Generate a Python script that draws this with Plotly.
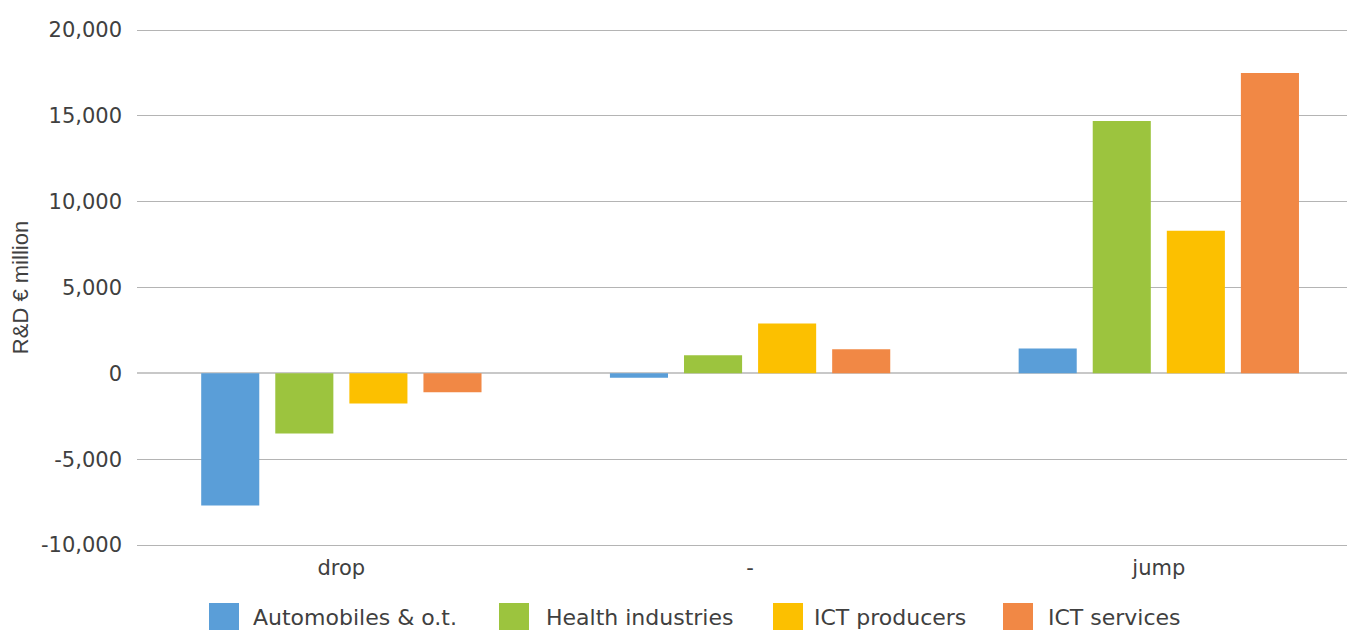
import plotly.graph_objects as go

categories = ["drop", "-", "jump"]
series_names = ["Automobiles & o.t.", "Health industries", "ICT producers", "ICT services"]
automobiles = [-7700, -250, 1450]
health = [-3500, 1050, 14700]
ict_producers = [-1750, 2900, 8300]
ict_services = [-1100, 1400, 17500]
colors = ["#5A9ED8", "#9CC43E", "#FCC000", "#F18845"]
y_ticks = [-10000, -5000, 0, 5000, 10000, 15000, 20000]
y_tick_text = ["-10,000", "-5,000", "0", "5,000", "10,000", "15,000", "20,000"]

values = [automobiles, health, ict_producers, ict_services]
font_family = "DejaVu Sans"
text_color = "#404040"

# page has an 8px body margin; size the figure so the plot lands where the original does
OFF = 8
W, H = 1355 - OFF, 630 - OFF
# plot edges in page pixels (2px beyond the outer gridlines so they are drawn)
PL, PT, PB = 137, 28, 547
PR = 1355
PAD = 2 * 30000 / (545 - 30)   # 2px worth of data units

fig = go.Figure()
for name, vals, col in zip(series_names, values, colors):
    fig.add_trace(go.Bar(x=categories, y=vals, name=name, marker_color=col,
                         marker_line_width=0, showlegend=False))


def px_x(p):
    return (p - PL) / (PR - PL)


def px_y(p):
    return (PB - p) / (PB - PT)


# custom legend (large swatches like the original)
swatch_x = [209, 499, 773, 1003]
label_x = [251, 544, 812, 1046]
for sx, lx, name, col in zip(swatch_x, label_x, series_names, colors):
    fig.add_shape(type="rect", xref="paper", yref="paper",
                  x0=px_x(sx), x1=px_x(sx + 30), y0=px_y(603), y1=px_y(640),
                  fillcolor=col, line_width=0)
    fig.add_annotation(xref="paper", yref="paper", x=px_x(lx), y=px_y(617),
                       text=name, showarrow=False, xanchor="left", yanchor="middle",
                       font=dict(family=font_family, size=22, color=text_color))

fig.update_layout(
    width=W, height=H,
    margin=dict(l=PL - OFF, r=0, t=PT - OFF, b=H - (PB - OFF), pad=0),
    paper_bgcolor="white", plot_bgcolor="white",
    barmode="group", bargap=0.275, bargroupgap=0.216,
    font=dict(family=font_family, size=21, color=text_color),
    xaxis=dict(range=[-0.5, 2.48], showgrid=False, zeroline=False, showline=False,
               ticks="", tickfont=dict(size=21, color=text_color), ticklabelstandoff=6),
    yaxis=dict(range=[-10000 - PAD, 20000 + PAD], tickvals=y_ticks, ticktext=y_tick_text,
               showgrid=True, gridcolor="#B4B4B4", gridwidth=1,
               zeroline=True, zerolinecolor="#C8C8C8", zerolinewidth=2,
               showline=False, ticks="", ticklabelstandoff=14,
               tickfont=dict(size=21, color=text_color),
               title=dict(text="R&D € million", standoff=10,
                          font=dict(family="Liberation Sans Narrow, sans-serif",
                                    size=22, color=text_color))),
)

fig.write_html("out.html")
